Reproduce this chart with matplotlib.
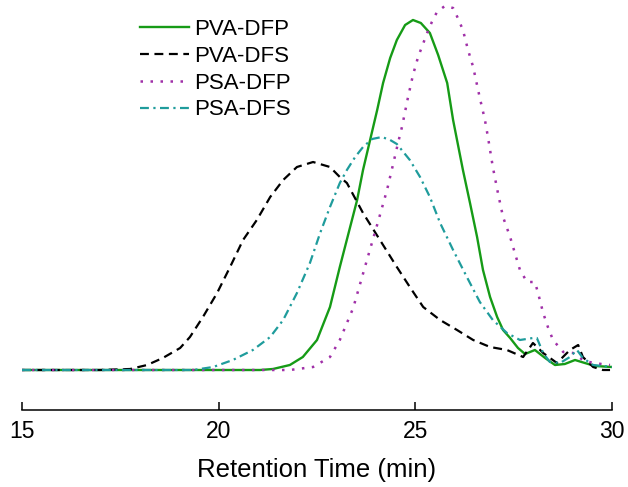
import matplotlib
matplotlib.use('Agg')
import matplotlib.pyplot as plt

plt.rcParams['font.family'] = ['Liberation Sans', 'DejaVu Sans']

# retention time (min) / detector response (arbitrary units)
pva_dfp_t = [15.0, 21.05, 21.38, 21.81, 22.14, 22.50, 22.83, 23.08, 23.29,
             23.52, 23.67, 23.85, 24.03, 24.18, 24.36, 24.53, 24.74, 24.94,
             25.14, 25.37, 25.58, 25.81, 25.96, 26.21, 26.39, 26.57, 26.72,
             26.90, 27.08, 27.23, 27.41, 27.61, 27.79, 28.04, 28.30, 28.55,
             28.80, 29.06, 29.31, 29.57, 30.0]
pva_dfp_y = [0, 0, 1, 5, 13, 30, 63, 103, 135,
             170, 200, 230, 260, 287, 312, 330, 345, 350,
             347, 337, 315, 287, 250, 200, 167, 133, 100,
             73, 53, 40, 32, 22, 16, 20, 12, 5,
             6, 10, 7, 4, 3]

pva_dfs_t = [15.0, 16.98, 17.75, 18.18, 18.58, 19.02, 19.27, 19.60, 19.96,
             20.29, 20.62, 20.97, 21.31, 21.64, 21.99, 22.40, 22.83, 23.08,
             23.26, 23.67, 24.10, 24.53, 24.86, 25.20, 25.63, 26.06, 26.47,
             26.90, 27.33, 27.74, 27.99, 28.25, 28.60, 28.93, 29.14, 29.26,
             29.52, 29.77, 29.95]
pva_dfs_y = [0, 0, 1, 5, 12, 22, 33, 53, 77,
             103, 130, 150, 173, 190, 203, 208, 203, 193,
             187, 157, 130, 103, 83, 63, 50, 40, 30,
             23, 20, 13, 27, 17, 7, 20, 25, 13,
             3, 0, 0]

psa_dfp_t = [15.0, 21.81, 22.40, 22.83, 23.08, 23.42, 23.77, 24.05, 24.28,
             24.43, 24.56, 24.66, 24.81, 24.94, 25.07, 25.30, 25.42, 25.55,
             25.75, 25.96, 26.08, 26.21, 26.34, 26.47, 26.64, 26.77, 26.85,
             26.97, 27.10, 27.23, 27.41, 27.53, 27.66, 27.84, 28.04, 28.12,
             28.25, 28.37, 28.50, 28.76, 29.01, 29.26, 29.52, 29.95]
psa_dfp_y = [0, 0, 3, 13, 30, 62, 110, 148, 180,
             205, 227, 243, 272, 295, 313, 337, 348, 358,
             364, 362, 352, 340, 320, 303, 272, 250, 232,
             203, 177, 153, 133, 117, 100, 88, 88, 77,
             57, 43, 30, 18, 17, 10, 7, 5]

psa_dfs_t = [15.0, 19.35, 19.86, 20.36, 20.87, 21.31, 21.64, 21.99, 22.32,
             22.58, 22.83, 23.08, 23.26, 23.47, 23.67, 23.90, 24.15, 24.36,
             24.53, 24.86, 25.12, 25.37, 25.63, 25.96, 26.31, 26.64, 26.97,
             27.33, 27.66, 27.99, 28.09, 28.25, 28.42, 28.68, 28.93, 29.11,
             29.26, 29.52, 30.0]
psa_dfs_y = [0, 0, 3, 10, 20, 33, 50, 77, 107,
             137, 163, 187, 200, 213, 223, 231, 233, 230,
             226, 210, 193, 173, 147, 120, 93, 68, 50,
             37, 30, 32, 32, 17, 8, 7, 13, 20,
             12, 5, 3]

fig = plt.figure(figsize=(6.28, 4.87), dpi=100)
ax = fig.add_axes([22 / 628, 1 - 410 / 487, 590 / 628, 410 / 487])

ax.plot(pva_dfp_t, pva_dfp_y, color='#169b16', lw=1.7, ls='-',
        label='PVA-DFP')
ax.plot(pva_dfs_t, pva_dfs_y, color='black', lw=1.6, ls=(0, (4, 2.5)),
        label='PVA-DFS')
ax.plot(psa_dfp_t, psa_dfp_y, color='#a030a8', lw=1.8, ls=(0, (1, 3)),
        label='PSA-DFP')
ax.plot(psa_dfs_t, psa_dfs_y, color='#1f9c9c', lw=1.6, ls=(0, (4, 2, 1, 2)),
        label='PSA-DFS')

ax.set_xlim(15, 30)
ax.set_ylim(-40, 370)
for side in ('top', 'left', 'right'):
    ax.spines[side].set_visible(False)
ax.spines['bottom'].set_linewidth(1.1)
ax.set_yticks([])
ax.set_xticks([15, 20, 25, 30])
ax.tick_params(axis='x', direction='in', length=6, width=1.1,
               labelsize=16.5, pad=7)
ax.set_xlabel('Retention Time (min)', fontsize=18.5, labelpad=11)

ax.legend(loc='upper left', bbox_to_anchor=(140 / 628, 1 - 19 / 487),
          bbox_transform=fig.transFigure, frameon=False, fontsize=16,
          handlelength=2.2, handletextpad=0.25, labelspacing=0.26,
          borderpad=0, borderaxespad=0)

fig.savefig('out.png', dpi=100)
